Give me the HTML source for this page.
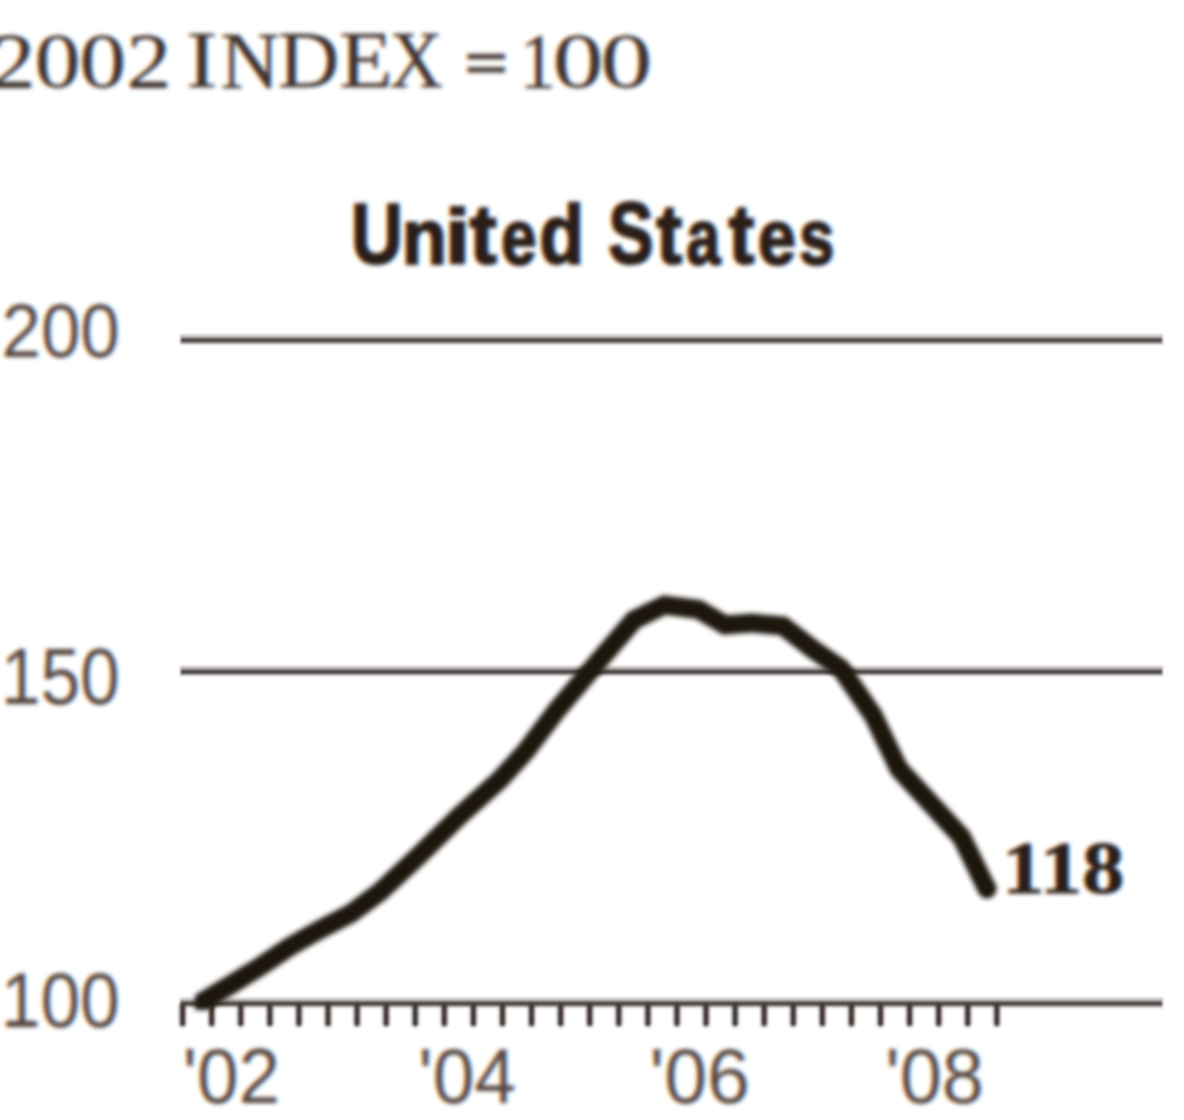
<!DOCTYPE html>
<html><head><meta charset="utf-8"><title>chart</title>
<style>
html,body{margin:0;padding:0;background:#fff;}
body{width:1184px;height:1120px;overflow:hidden;font-family:"Liberation Sans",sans-serif;}
svg{display:block;position:absolute;left:0;top:0;}
</style></head><body>
<svg width="1184" height="1120" viewBox="0 0 1184 1120">
<defs>
<filter id="b1" x="-5%" y="-5%" width="110%" height="110%"><feGaussianBlur stdDeviation="1.2"/></filter>
<filter id="b2" x="-5%" y="-5%" width="110%" height="110%"><feGaussianBlur stdDeviation="2.5"/></filter>
<filter id="b3" x="-5%" y="-5%" width="110%" height="110%"><feGaussianBlur stdDeviation="2.0"/></filter>
<filter id="ct" filterUnits="userSpaceOnUse" x="-20" y="-20" width="1224" height="1160" color-interpolation-filters="sRGB">
 <feGaussianBlur in="SourceGraphic" stdDeviation="1.9" result="bl"/>
 <feColorMatrix in="bl" type="matrix" values="1 0 0 0 0  0 0 0 0 0  0 0 0 0 0  0 0 0 1 0" result="r0"/>
 <feOffset in="r0" dx="1.4" dy="0" result="r"/>
 <feColorMatrix in="bl" type="matrix" values="0 0 0 0 0  0 1 0 0 0  0 0 0 0 0  0 0 0 1 0" result="g"/>
 <feColorMatrix in="bl" type="matrix" values="0 0 0 0 0  0 0 0 0 0  0 0 1 0 0  0 0 0 1 0" result="b0"/>
 <feOffset in="b0" dx="-1.4" dy="0" result="b"/>
 <feBlend in="r" in2="g" mode="screen" result="rg"/>
 <feBlend in="rg" in2="b" mode="screen"/>
</filter>
<clipPath id="plot"><rect x="195" y="0" width="989" height="1010"/></clipPath>
</defs>
<rect width="1184" height="1120" fill="#ffffff"/>
<g filter="url(#ct)">
 <rect x="-40" y="-40" width="1264" height="1200" fill="#ffffff"/>
 <text transform="matrix(1.1625 0 0 1.0255 -9.49 87.10)" font-family="Liberation Serif" font-weight="normal" font-size="77" fill="#3e322d" stroke="#3e322d" stroke-width="0.4">2</text>
 <text transform="matrix(1.1970 0 0 1.0288 34.41 86.97)" font-family="Liberation Serif" font-weight="normal" font-size="77" fill="#3e322d" stroke="#3e322d" stroke-width="0.4">0</text>
 <text transform="matrix(1.2182 0 0 1.0288 79.25 86.97)" font-family="Liberation Serif" font-weight="normal" font-size="77" fill="#3e322d" stroke="#3e322d" stroke-width="0.4">0</text>
 <text transform="matrix(1.1625 0 0 1.0255 126.51 87.10)" font-family="Liberation Serif" font-weight="normal" font-size="77" fill="#3e322d" stroke="#3e322d" stroke-width="0.4">2</text>
 <text transform="matrix(1.2238 0 0 1.0360 185.95 86.80)" font-family="Liberation Serif" font-weight="normal" font-size="77" fill="#3e322d" stroke="#3e322d" stroke-width="0.4">I</text>
 <text transform="matrix(1.0596 0 0 1.0500 220.58 87.50)" font-family="Liberation Serif" font-weight="normal" font-size="77" fill="#3e322d" stroke="#3e322d" stroke-width="0.4">N</text>
 <text transform="matrix(1.1039 0 0 1.0360 277.99 86.80)" font-family="Liberation Serif" font-weight="normal" font-size="77" fill="#3e322d" stroke="#3e322d" stroke-width="0.4">D</text>
 <text transform="matrix(1.1366 0 0 1.0360 339.13 86.80)" font-family="Liberation Serif" font-weight="normal" font-size="77" fill="#3e322d" stroke="#3e322d" stroke-width="0.4">E</text>
 <text transform="matrix(0.9537 0 0 1.0360 389.45 86.80)" font-family="Liberation Serif" font-weight="normal" font-size="77" fill="#3e322d" stroke="#3e322d" stroke-width="0.4">X</text>
 <text transform="matrix(0.9429 0 0 1.0060 519.44 87.30)" font-family="Liberation Serif" font-weight="normal" font-size="77" fill="#3e322d" stroke="#3e322d" stroke-width="0.4">1</text>
 <text transform="matrix(1.3242 0 0 1.0231 552.53 87.18)" font-family="Liberation Serif" font-weight="normal" font-size="77" fill="#3e322d" stroke="#3e322d" stroke-width="0.3">0</text>
 <text transform="matrix(1.3515 0 0 1.0231 600.15 87.18)" font-family="Liberation Serif" font-weight="normal" font-size="77" fill="#3e322d" stroke="#3e322d" stroke-width="0.3">0</text>
 <text transform="matrix(0.8036 0 0 0.9600 351.09 263.28)" font-family="Liberation Sans" font-weight="bold" font-size="89" fill="#2a1e18" stroke="#2a1e18" stroke-width="2.5">U</text>
 <text transform="matrix(0.8289 0 0 0.8760 401.76 263.72)" font-family="Liberation Sans" font-weight="bold" font-size="89" fill="#2a1e18" stroke="#2a1e18" stroke-width="2.5">n</text>
 <text transform="matrix(1.0267 0 0 0.8746 444.67 263.73)" font-family="Liberation Sans" font-weight="bold" font-size="89" fill="#2a1e18" stroke="#2a1e18" stroke-width="2.5">i</text>
 <text transform="matrix(0.9133 0 0 0.9459 469.60 263.31)" font-family="Liberation Sans" font-weight="bold" font-size="89" fill="#2a1e18" stroke="#2a1e18" stroke-width="2.5">t</text>
 <text transform="matrix(0.7152 0 0 0.8843 501.07 263.63)" font-family="Liberation Sans" font-weight="bold" font-size="89" fill="#2a1e18" stroke="#2a1e18" stroke-width="2.5">e</text>
 <text transform="matrix(0.8229 0 0 0.9343 539.25 264.47)" font-family="Liberation Sans" font-weight="bold" font-size="89" fill="#2a1e18" stroke="#2a1e18" stroke-width="2.5">d</text>
 <text transform="matrix(0.7607 0 0 0.9723 608.24 263.46)" font-family="Liberation Sans" font-weight="bold" font-size="89" fill="#2a1e18" stroke="#2a1e18" stroke-width="2.5">S</text>
 <text transform="matrix(0.8667 0 0 0.9459 656.30 263.31)" font-family="Liberation Sans" font-weight="bold" font-size="89" fill="#2a1e18" stroke="#2a1e18" stroke-width="2.5">t</text>
 <text transform="matrix(0.6860 0 0 0.8843 686.31 263.63)" font-family="Liberation Sans" font-weight="bold" font-size="89" fill="#2a1e18" stroke="#2a1e18" stroke-width="2.5">a</text>
 <text transform="matrix(0.8667 0 0 0.9459 728.40 263.31)" font-family="Liberation Sans" font-weight="bold" font-size="89" fill="#2a1e18" stroke="#2a1e18" stroke-width="2.5">t</text>
 <text transform="matrix(0.7696 0 0 0.8843 757.66 263.63)" font-family="Liberation Sans" font-weight="bold" font-size="89" fill="#2a1e18" stroke="#2a1e18" stroke-width="2.5">e</text>
 <text transform="matrix(0.7111 0 0 0.8843 799.08 263.63)" font-family="Liberation Sans" font-weight="bold" font-size="89" fill="#2a1e18" stroke="#2a1e18" stroke-width="2.5">s</text>
 <text transform="matrix(0.9586 0 0 1.0288 1.47 356.80)" font-family="Liberation Sans" font-weight="normal" font-size="74" fill="#54463f" stroke="#54463f" stroke-width="0">200</text>
 <text transform="matrix(0.9649 0 0 1.0673 0.71 704.00)" font-family="Liberation Sans" font-weight="normal" font-size="74" fill="#54463f" stroke="#54463f" stroke-width="0">150</text>
 <text transform="matrix(0.9649 0 0 1.0577 0.71 1026.50)" font-family="Liberation Sans" font-weight="normal" font-size="74" fill="#54463f" stroke="#54463f" stroke-width="0">100</text>
 <text transform="matrix(1.0079 0 0 1.0596 182.67 1103.30)" font-family="Liberation Sans" font-weight="normal" font-size="74" fill="#54463f" stroke="#54463f" stroke-width="0">&#39;02</text>
 <text transform="matrix(1.0133 0 0 1.0500 418.35 1102.80)" font-family="Liberation Sans" font-weight="normal" font-size="74" fill="#54463f" stroke="#54463f" stroke-width="0">&#39;04</text>
 <text transform="matrix(1.0416 0 0 1.0596 649.53 1103.30)" font-family="Liberation Sans" font-weight="normal" font-size="74" fill="#54463f" stroke="#54463f" stroke-width="0">&#39;06</text>
 <text transform="matrix(1.0247 0 0 1.0596 885.20 1103.30)" font-family="Liberation Sans" font-weight="normal" font-size="74" fill="#54463f" stroke="#54463f" stroke-width="0">&#39;08</text>
 <text transform="matrix(1.0857 0 0 0.9434 1001.99 893.06)" font-family="Liberation Serif" font-weight="bold" font-size="78" fill="#2a1e18" stroke="#2a1e18" stroke-width="1.0">118</text>
 <rect x="467.4" y="54" width="37.5" height="5.2" fill="#3e322d"/>
 <rect x="467.4" y="67.2" width="37.5" height="5.2" fill="#3e322d"/>
 <rect x="8" y="698.2" width="25" height="5.8" fill="#54463f"/>
 <rect x="8" y="1020.7" width="25" height="5.8" fill="#54463f"/>
</g>
<g filter="url(#b1)">
 <g stroke="#514946" stroke-opacity="0.32" stroke-width="10" fill="none">
  <line x1="180" y1="339.4" x2="1163" y2="339.4"/>
  <line x1="180" y1="670.9" x2="1163" y2="670.9"/>
  <line x1="180" y1="1002.7" x2="1163" y2="1002.7"/>
 </g>
 <g stroke="#514946" stroke-width="4.4" fill="none">
  <line x1="181" y1="340.2" x2="1162" y2="340.2"/>
  <line x1="181" y1="671.7" x2="1162" y2="671.7"/>
  <line x1="181" y1="1003.5" x2="1162" y2="1003.5"/>
 </g>
 <g stroke="#514946" stroke-opacity="0.3" stroke-width="9" fill="none" stroke-linecap="round"><line x1="182.60" y1="1005.6" x2="182.60" y2="1023.6"/><line x1="211.68" y1="1005.6" x2="211.68" y2="1023.6"/><line x1="240.76" y1="1005.6" x2="240.76" y2="1023.6"/><line x1="269.84" y1="1005.6" x2="269.84" y2="1023.6"/><line x1="298.92" y1="1005.6" x2="298.92" y2="1023.6"/><line x1="328.00" y1="1005.6" x2="328.00" y2="1023.6"/><line x1="357.08" y1="1005.6" x2="357.08" y2="1023.6"/><line x1="386.16" y1="1005.6" x2="386.16" y2="1023.6"/><line x1="415.24" y1="1005.6" x2="415.24" y2="1023.6"/><line x1="444.32" y1="1005.6" x2="444.32" y2="1023.6"/><line x1="473.40" y1="1005.6" x2="473.40" y2="1023.6"/><line x1="502.48" y1="1005.6" x2="502.48" y2="1023.6"/><line x1="531.56" y1="1005.6" x2="531.56" y2="1023.6"/><line x1="560.64" y1="1005.6" x2="560.64" y2="1023.6"/><line x1="589.72" y1="1005.6" x2="589.72" y2="1023.6"/><line x1="618.80" y1="1005.6" x2="618.80" y2="1023.6"/><line x1="647.88" y1="1005.6" x2="647.88" y2="1023.6"/><line x1="676.96" y1="1005.6" x2="676.96" y2="1023.6"/><line x1="706.04" y1="1005.6" x2="706.04" y2="1023.6"/><line x1="735.12" y1="1005.6" x2="735.12" y2="1023.6"/><line x1="764.20" y1="1005.6" x2="764.20" y2="1023.6"/><line x1="793.28" y1="1005.6" x2="793.28" y2="1023.6"/><line x1="822.36" y1="1005.6" x2="822.36" y2="1023.6"/><line x1="851.44" y1="1005.6" x2="851.44" y2="1023.6"/><line x1="880.52" y1="1005.6" x2="880.52" y2="1023.6"/><line x1="909.60" y1="1005.6" x2="909.60" y2="1023.6"/><line x1="938.68" y1="1005.6" x2="938.68" y2="1023.6"/><line x1="967.76" y1="1005.6" x2="967.76" y2="1023.6"/><line x1="996.84" y1="1005.6" x2="996.84" y2="1023.6"/></g>
 <g stroke="#423935" stroke-width="4.8" fill="none" stroke-linecap="round"><line x1="182.60" y1="1005.6" x2="182.60" y2="1023.6"/><line x1="211.68" y1="1005.6" x2="211.68" y2="1023.6"/><line x1="240.76" y1="1005.6" x2="240.76" y2="1023.6"/><line x1="269.84" y1="1005.6" x2="269.84" y2="1023.6"/><line x1="298.92" y1="1005.6" x2="298.92" y2="1023.6"/><line x1="328.00" y1="1005.6" x2="328.00" y2="1023.6"/><line x1="357.08" y1="1005.6" x2="357.08" y2="1023.6"/><line x1="386.16" y1="1005.6" x2="386.16" y2="1023.6"/><line x1="415.24" y1="1005.6" x2="415.24" y2="1023.6"/><line x1="444.32" y1="1005.6" x2="444.32" y2="1023.6"/><line x1="473.40" y1="1005.6" x2="473.40" y2="1023.6"/><line x1="502.48" y1="1005.6" x2="502.48" y2="1023.6"/><line x1="531.56" y1="1005.6" x2="531.56" y2="1023.6"/><line x1="560.64" y1="1005.6" x2="560.64" y2="1023.6"/><line x1="589.72" y1="1005.6" x2="589.72" y2="1023.6"/><line x1="618.80" y1="1005.6" x2="618.80" y2="1023.6"/><line x1="647.88" y1="1005.6" x2="647.88" y2="1023.6"/><line x1="676.96" y1="1005.6" x2="676.96" y2="1023.6"/><line x1="706.04" y1="1005.6" x2="706.04" y2="1023.6"/><line x1="735.12" y1="1005.6" x2="735.12" y2="1023.6"/><line x1="764.20" y1="1005.6" x2="764.20" y2="1023.6"/><line x1="793.28" y1="1005.6" x2="793.28" y2="1023.6"/><line x1="822.36" y1="1005.6" x2="822.36" y2="1023.6"/><line x1="851.44" y1="1005.6" x2="851.44" y2="1023.6"/><line x1="880.52" y1="1005.6" x2="880.52" y2="1023.6"/><line x1="909.60" y1="1005.6" x2="909.60" y2="1023.6"/><line x1="938.68" y1="1005.6" x2="938.68" y2="1023.6"/><line x1="967.76" y1="1005.6" x2="967.76" y2="1023.6"/><line x1="996.84" y1="1005.6" x2="996.84" y2="1023.6"/></g>
</g>
<g filter="url(#b2)"><g clip-path="url(#plot)">
 <polyline points="180.0,1015.3 203.0,1001.5 232.0,984.0 261.0,966.0 290.0,946.5 319.0,930.0 351.0,913.5 380.0,892.0 418.0,856.5 460.0,815.5 500.0,779.5 526.0,751.0 557.0,710.0 590.5,670.5 634.0,620.0 664.5,605.0 698.5,609.5 725.0,625.0 752.0,623.0 783.0,626.0 812.0,648.5 841.0,668.5 873.0,715.0 899.0,769.0 961.5,837.0 987.0,889.0" fill="none" stroke="#1e130c" stroke-width="19" stroke-linejoin="miter" stroke-linecap="round"/>
</g></g>
</svg>
</body></html>
